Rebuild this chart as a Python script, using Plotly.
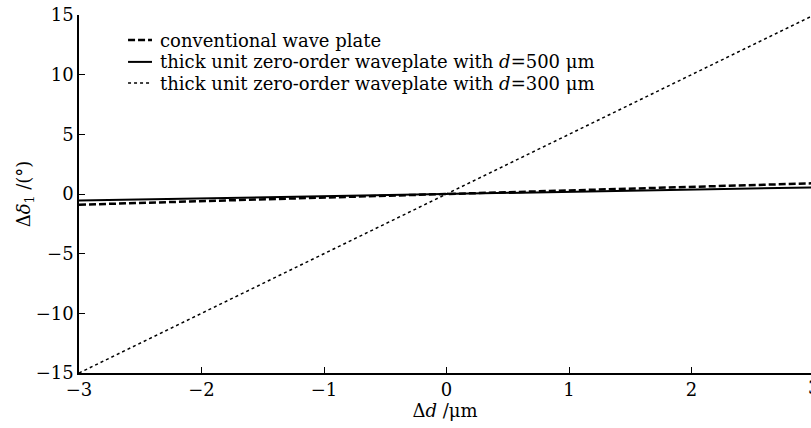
import plotly.graph_objects as go

x_vals = [-3, 3]
conventional = [-0.9, 0.9]
thick_500 = [-0.55, 0.55]
thick_300 = [-15, 15]

x_ticks = [-3, -2, -1, 0, 1, 2]
y_ticks = [-15, -10, -5, 0, 5, 10, 15]

names = [
    "conventional wave plate",
    "thick unit zero-order waveplate with <i>d</i>=500 μm",
    "thick unit zero-order waveplate with <i>d</i>=300 μm",
]
styles = [
    dict(color="black", width=2.5, dash="7px,3px"),
    dict(color="black", width=2),
    dict(color="black", width=1.5, dash="dot"),
]
series = [conventional, thick_500, thick_300]

FONT = "DejaVu Serif"

fig = go.Figure()
for nm, ys, st in zip(names, series, styles):
    fig.add_trace(go.Scatter(x=x_vals, y=ys, mode="lines", name=nm, line=st, showlegend=False))

# manual legend (compact row spacing)
leg_y = [0.930, 0.869, 0.810]
for nm, st, yy in zip(names, styles, leg_y):
    fig.add_shape(type="line", xref="paper", yref="paper", x0=0.067, x1=0.0997, y0=yy, y1=yy,
                  line=dict(color="black", width=st["width"], dash=st.get("dash", "solid")))
    fig.add_annotation(xref="paper", yref="paper", x=0.1085, y=yy, text=nm, showarrow=False,
                       xanchor="left", yanchor="middle", font=dict(family=FONT, size=18))

fig.update_layout(
    width=811, height=428,
    margin=dict(l=79, r=0, t=15, b=55),
    paper_bgcolor="white", plot_bgcolor="white",
    font=dict(family=FONT, size=18, color="black"),
    showlegend=False,
)
fig.update_xaxes(range=[-3, 2.975], tickvals=x_ticks,
                 ticks="inside", ticklen=6, tickcolor="black", tickwidth=1.2,
                 showline=True, linecolor="black", linewidth=1.5, showgrid=False, zeroline=False,
                 automargin=False,
                 title=dict(text="Δ<i>d</i> /μm", font=dict(family=FONT, size=18), standoff=4),
                 tickfont=dict(family=FONT, size=18))
fig.update_yaxes(range=[-15, 15], tickvals=y_ticks,
                 ticks="inside", ticklen=6, tickcolor="black", tickwidth=1.2,
                 showline=True, linecolor="black", linewidth=1.5, showgrid=False, zeroline=False,
                 automargin=False,
                 title=dict(text="Δ<i>δ</i><sub>1</sub> /(°)", font=dict(family=FONT, size=18), standoff=0),
                 tickfont=dict(family=FONT, size=18))
fig.add_annotation(x=1.004, y=0, xref="paper", yref="paper", text="3", showarrow=False,
                   xanchor="center", yanchor="top", yshift=-2, font=dict(family=FONT, size=18))
fig.write_html("out.html", config={"displayModeBar": False},
               post_script="document.body.style.margin='0';")
